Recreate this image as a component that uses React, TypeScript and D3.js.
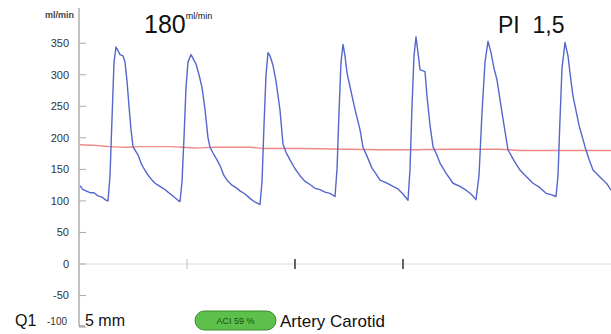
import React, { useEffect, useRef } from "react";
import * as d3 from "d3";

// flow samples: time index (0 = left edge of trace) and velocity in ml/min
const flowT = [
  0, 3, 6, 10, 14, 18, 22, 26, 28,
  30, 32, 34, 36, 38, 40, 43, 45, 47, 49, 51, 53, 56, 58, 61, 64, 68, 72, 75, 78, 82, 85, 88, 92, 95, 98, 100,
  102, 104, 106, 108, 111, 113, 116, 119, 122, 125, 128, 130, 133, 137, 140, 144, 148, 152, 156, 160, 165, 170, 174, 178, 180,
  182, 184, 186, 188, 190, 193, 196, 200, 203, 206, 210, 215, 220, 225, 230, 235, 240, 245, 250, 255,
  257, 259, 261, 263, 265, 267, 270, 275, 280, 283, 287, 292, 296, 300, 306, 313, 318, 323, 328,
  330, 332, 334, 336, 338, 340, 345, 347, 350, 353, 356, 360, 366, 373, 380, 386, 391, 396,
  399, 402, 405, 408, 411, 414, 417, 422, 428, 434, 440, 446, 453, 460, 466, 471, 476,
  478, 480, 482, 485, 488, 491, 493, 499, 505, 509, 513, 518, 523, 527, 531,
];
const flowV = [
  124, 118, 116, 113, 113, 108, 106, 101, 100,
  140, 230, 320, 344, 338, 332, 330, 320, 290, 250, 213, 186, 178, 173, 160, 151, 141, 133, 128, 125, 121, 118, 114, 109, 105, 101, 99,
  130, 200, 280, 320, 332, 326, 317, 300, 280, 245, 200, 185, 176, 165, 156, 140, 131, 125, 121, 116, 111, 104, 99, 96, 94,
  130, 220, 300, 335, 330, 315, 290, 244, 190, 177, 165, 151, 140, 131, 126, 120, 118, 114, 112, 107,
  150, 240, 320, 348, 330, 303, 281, 245, 213, 185, 171, 152, 143, 133, 129, 123, 119, 111, 101,
  150, 250, 330, 360, 335, 308, 305, 266, 220, 186, 176, 160, 144, 128, 123, 117, 111, 102,
  140, 240, 320, 353, 335, 310, 292, 240, 181, 164, 149, 139, 128, 121, 112, 110, 107,
  140, 230, 310, 351, 330, 290, 266, 220, 186, 166, 149, 141, 133, 127, 117,
];

// mean flow trend
const meanT = [0, 15, 30, 45, 60, 90, 115, 135, 170, 185, 220, 270, 320, 370, 420, 440, 531];
const meanV = [189, 188, 186, 185, 186, 186, 184, 185, 185, 183, 183, 182, 181, 182, 182, 180, 180];

const yTicks = [350, 300, 250, 200, 150, 100, 50, 0, -50, -100];
const timeMarks = [107, 215, 323];
const timeMarkStrong = [false, true, true];

const App = () => {
  const ref = useRef<SVGSVGElement>(null);

  useEffect(() => {
    document.body.style.margin = "0";
    const width = 611;
    const height = 334;

    const svg = d3.select(ref.current);
    svg.selectAll("*").remove();
    svg.attr("width", width).attr("height", height);

    const x = d3.scaleLinear().domain([0, 531]).range([80, 611]);
    const y = d3.scaleLinear().domain([-100, 350]).range([327.1, 43.2]);

    const font = "Arial, 'Liberation Sans', sans-serif";

    // zero line
    svg.append("line")
      .attr("x1", 79).attr("x2", width)
      .attr("y1", y(0)).attr("y2", y(0))
      .attr("stroke", "#dedede").attr("stroke-width", 1);

    timeMarks.forEach((t, i) => {
      svg.append("line")
        .attr("x1", x(t)).attr("x2", x(t))
        .attr("y1", y(0) - 5).attr("y2", y(0) + 5)
        .attr("stroke", timeMarkStrong[i] ? "#333" : "#bbb")
        .attr("stroke-width", timeMarkStrong[i] ? 1.5 : 1);
    });

    // y axis
    svg.append("line")
      .attr("x1", 79).attr("x2", 79)
      .attr("y1", 8).attr("y2", 326)
      .attr("stroke", "#999").attr("stroke-width", 1.2);

    const ticks = svg.append("g");
    yTicks.forEach((v) => {
      ticks.append("line")
        .attr("x1", 79).attr("x2", 86)
        .attr("y1", y(v)).attr("y2", y(v))
        .attr("stroke", "#aaa");
      if (v !== -100) {
        ticks.append("text")
          .attr("x", 69).attr("y", y(v))
          .attr("dy", "0.35em")
          .attr("text-anchor", "end")
          .attr("font-family", font)
          .attr("font-size", 11)
          .attr("fill", "#333")
          .text(v);
      }
    });
    ticks.append("text")
      .attr("x", 67).attr("y", 325)
      .attr("text-anchor", "end")
      .attr("font-family", font)
      .attr("font-size", 10)
      .attr("fill", "#333")
      .text("-100");
    svg.append("line")
      .attr("x1", 79).attr("x2", 85)
      .attr("y1", 326).attr("y2", 326)
      .attr("stroke", "#777");

    svg.append("text")
      .attr("x", 74).attr("y", 18)
      .attr("text-anchor", "end")
      .attr("font-family", font)
      .attr("font-size", 9)
      .attr("font-weight", "bold")
      .attr("fill", "#444")
      .text("ml/min");

    // mean line
    svg.append("path")
      .datum(meanT.map((t, i) => [t, meanV[i]] as [number, number]))
      .attr("fill", "none")
      .attr("stroke", "#f08a8a")
      .attr("stroke-width", 1.4)
      .attr("d", d3.line<[number, number]>()
        .x((d) => x(d[0]))
        .y((d) => y(d[1]))
        .curve(d3.curveMonotoneX));

    // flow trace
    svg.append("path")
      .datum(flowT.map((t, i) => [t, flowV[i]] as [number, number]))
      .attr("fill", "none")
      .attr("stroke", "#5566cc")
      .attr("stroke-width", 1.4)
      .attr("stroke-linejoin", "round")
      .attr("d", d3.line<[number, number]>()
        .x((d) => x(d[0]))
        .y((d) => y(d[1])));

    // header values
    const t180 = svg.append("text")
      .attr("x", 144).attr("y", 33)
      .attr("font-family", font)
      .attr("font-size", 25)
      .attr("fill", "#111");
    t180.append("tspan").text("180");
    t180.append("tspan")
      .attr("font-size", 9)
      .attr("dy", -14)
      .text("ml/min");

    svg.append("text")
      .attr("x", 498).attr("y", 33)
      .attr("font-family", font)
      .attr("font-size", 23)
      .attr("fill", "#111")
      .attr("xml:space", "preserve")
      .text("PI  1,5");

    // footer
    svg.append("text")
      .attr("x", 15).attr("y", 326)
      .attr("font-family", font)
      .attr("font-size", 16)
      .attr("fill", "#111")
      .text("Q1");

    svg.append("text")
      .attr("x", 85).attr("y", 326)
      .attr("font-family", font)
      .attr("font-size", 16)
      .attr("fill", "#111")
      .text("5 mm");

    svg.append("rect")
      .attr("x", 195).attr("y", 311)
      .attr("width", 81).attr("height", 19)
      .attr("rx", 9.5)
      .attr("fill", "#5cc04a")
      .attr("stroke", "#3d8a30");
    svg.append("text")
      .attr("x", 235.5).attr("y", 324)
      .attr("text-anchor", "middle")
      .attr("font-family", font)
      .attr("font-size", 9)
      .attr("fill", "#174f14")
      .text("ACI 59 %");

    svg.append("text")
      .attr("x", 280).attr("y", 327)
      .attr("font-family", font)
      .attr("font-size", 17)
      .attr("fill", "#111")
      .text("Artery Carotid");
  }, []);

  return <svg ref={ref} style={{ display: "block" }} />;
};

export default App;
